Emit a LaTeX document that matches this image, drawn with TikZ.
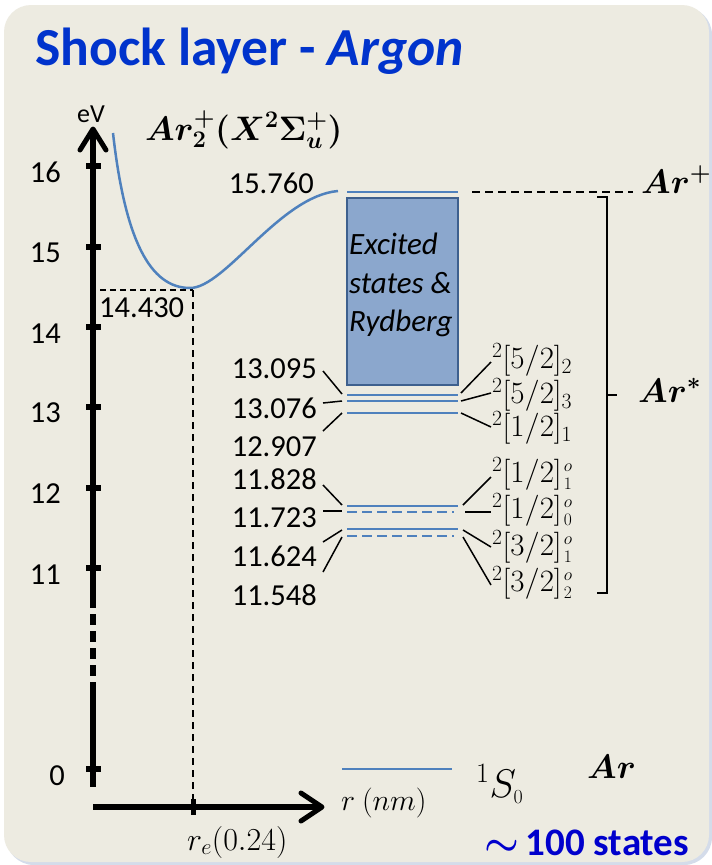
\RequirePackage{fix-cm}
\documentclass[tikz,border=0pt]{standalone}
\usepackage{amsmath}
\usepackage{bm}
\usepackage[no-math]{fontspec}
\setmainfont{Carlito}
\definecolor{bgbeige}{RGB}{237,235,225}
\definecolor{shadowblue}{RGB}{212,220,234}
\definecolor{lvlblue}{RGB}{79,129,189}
\definecolor{boxfill}{RGB}{139,167,205}
\definecolor{boxedge}{RGB}{62,96,142}
\definecolor{titleblue}{RGB}{0,51,204}
\definecolor{statesblue}{RGB}{0,0,204}
\newcommand{\stackso}[2]{\hbox{\kern2.2pt\fontsize{17.5}{18}\selectfont\rlap{\raisebox{11.4pt}{$#1$}}\raisebox{-6.4pt}{$#2$}}}
\tikzset{
  lvl/.style={draw=lvlblue, line width=2.8pt},
  lvldash/.style={lvl, dash pattern=on 10pt off 5pt},
  leader/.style={draw=black, line width=1.5pt},
  num/.style={font=\fontsize{30.5}{34}\selectfont, inner sep=0pt},
  term/.style={font=\fontsize{31}{34}\selectfont, inner sep=0pt, anchor=west},
  bigmath/.style={font=\fontsize{34}{38}\selectfont, inner sep=0pt, anchor=base west},
  axisline/.style={line width=5.5pt},
  guide/.style={draw=black, line width=1.4pt, dash pattern=on 6pt off 4pt},
  vguide/.style={draw=black, line width=1.2pt, dash pattern=on 7pt off 5pt},
}
\begin{document}
\begin{tikzpicture}[x=1pt,y=-1pt]
\useasboundingbox (0,0) rectangle (712,865);
\fill[white] (0,0) rectangle (712,865);
\fill[shadowblue, rounded corners=28pt] (6,7) rectangle (712,865);
\fill[bgbeige, rounded corners=27pt] (4,5) rectangle (709,862);

% title
\node[anchor=base west, inner sep=0pt, text=titleblue, font=\fontsize{53.5}{60}\selectfont\bfseries] (title) at (35,65) {Shock layer - \textit{Argon}};

% vertical axis
\draw[axisline] (93,132) -- (93,597);
\draw[axisline, dash pattern=on 11pt off 6pt] (93,597) -- (93,684);
\draw[axisline] (93,684) -- (93,787);
\draw[line width=5pt, line join=round, line cap=round] (80,150) -- (93,129) -- (106,150);
\foreach \yy in {166,247,327,407,488,568,769}
  \fill (86,{\yy-2.8}) rectangle (101,{\yy+2.8});
\node[inner sep=0pt, font=\fontsize{26}{30}\selectfont] (ev) at (91,114) {eV};
\node[num, anchor=east] (t16) at (61,172) {16};
\node[num, anchor=east] (t15) at (61,253) {15};
\node[num, anchor=east] (t14) at (61,334) {14};
\node[num, anchor=east] (t13) at (61,413) {13};
\node[num, anchor=east] (t12) at (61,494) {12};
\node[num, anchor=east] (t11) at (61,575) {11};
\node[num, anchor=east] (t0) at (65,776) {0};

% horizontal axis
\draw[axisline] (93,807) -- (320,807);
\draw[line width=5pt, line join=round, line cap=round] (301,793) -- (322,807) -- (301,821);
\fill (190.5,799) rectangle (195.5,815);
\node[anchor=base west, inner sep=0pt, font=\fontsize{30}{34}\selectfont] (rnm) at (341,810) {$r\ (nm)$};
\node[anchor=base west, inner sep=0pt, font=\fontsize{32}{36}\selectfont] (re) at (187,850) {$r_e(0.24)$};

% potential curve
\draw[lvlblue, line width=2.5pt] (113,133) .. controls (125,240) and (150,288) .. (190,288)
      .. controls (225,288) and (280,196) .. (338,191);
\node[bigmath, font=\fontsize{34}{40}\selectfont] (ar2) at (145,140) {$\bm{Ar_2^+(X^2\Sigma_u^+)}$};

% minimum guides
\coordinate (minL) at (100,290);
\coordinate (minR) at (193,290);
\coordinate (reB) at (193,807);
\draw[guide] (minL) -- (minR);
\draw[vguide] (minR) -- (reB);
\node[num, anchor=west] (v14430) at (99,308) {14.430};
\node[num, anchor=east] (v15760) at (314,183) {15.760};

% ionization level and box
\draw[lvl] (347,192) -- (458,192);
\draw[draw=boxedge, fill=boxfill, line width=2.2pt] (347,198) rectangle (458,385);
\node[anchor=north west, inner sep=0pt, align=left, font=\fontsize{31}{38.5}\selectfont\itshape] (exc) at (349,233) {Excited\\states \&\\Rydberg};

% Ar+ dashed
\coordinate (ipL) at (472,192);
\coordinate (ipR) at (633,192);
\draw[black, line width=1.5pt, dash pattern=on 8pt off 5pt] (ipL) -- (ipR);
\node[bigmath] (arp) at (641,193) {$\bm{Ar^+}$};

% group 1 levels
\draw[lvl] (347,395) -- (458,395);
\draw[lvl] (347,401) -- (458,401);
\draw[lvl] (347,413) -- (458,413);
% group 2 levels
\draw[lvl] (347,506) -- (458,506);
\draw[lvldash] (347,512) -- (454,512);
\draw[lvl] (347,529) -- (458,529);
\draw[lvldash] (347,536) -- (454,536);

% left labels
\node[num, anchor=east] (n1) at (317,369) {13.095};
\node[num, anchor=east] (n2) at (317,408) {13.076};
\node[num, anchor=east] (n3) at (317,447) {12.907};
\node[num, anchor=east] (n4) at (317,479) {11.828};
\node[num, anchor=east] (n5) at (317,518) {11.723};
\node[num, anchor=east] (n6) at (317,556) {11.624};
\node[num, anchor=east] (n7) at (317,595) {11.548};

\coordinate (la1) at (323,371); \coordinate (lb1) at (342,394);
\coordinate (la2) at (323,403); \coordinate (lb2) at (342,401);
\coordinate (la3) at (323,431); \coordinate (lb3) at (342,413);
\coordinate (la4) at (323,485); \coordinate (lb4) at (342,505);
\coordinate (la5) at (323,511); \coordinate (lb5) at (342,511);
\coordinate (la6) at (323,542); \coordinate (lb6) at (342,530);
\coordinate (la7) at (323,572); \coordinate (lb7) at (342,537);
\foreach \i in {1,...,7} \draw[leader] (la\i) -- (lb\i);

% right labels
\node[term] (s1) at (492,360) {$^2[5/2]_2$};
\node[term] (s2) at (492,395) {$^2[5/2]_3$};
\node[term] (s3) at (492,428) {$^2[1/2]_1$};
\node[term] (s4) at (492,474) {$^2[1/2]$\stackso{o}{1}};
\node[term] (s5) at (492,510) {$^2[1/2]$\stackso{o}{0}};
\node[term] (s6) at (492,547) {$^2[3/2]$\stackso{o}{1}};
\node[term] (s7) at (492,583) {$^2[3/2]$\stackso{o}{2}};

\coordinate (ra1) at (461,393); \coordinate (rb1) at (491,362);
\coordinate (ra2) at (461,401); \coordinate (rb2) at (491,393);
\coordinate (ra3) at (461,413); \coordinate (rb3) at (491,427);
\coordinate (ra4) at (463,505); \coordinate (rb4) at (491,477);
\coordinate (ra5) at (465,512); \coordinate (rb5) at (491,512);
\coordinate (ra6) at (463,530); \coordinate (rb6) at (491,547);
\coordinate (ra7) at (463,537); \coordinate (rb7) at (491,585);
\foreach \i in {1,...,7} \draw[leader] (ra\i) -- (rb\i);

% bracket Ar*
\coordinate (brT) at (597,197);
\coordinate (brB) at (597,593);
\coordinate (brM) at (607,395);
\draw[black, line width=1.8pt] (brT) -- (607,197) -- (607,593) -- (brB);
\draw[black, line width=1.8pt] (brM) -- (617,395);
\node[bigmath] (arstar) at (638,402) {$\bm{Ar^*}$};

% ground state
\draw[lvl] (342,769) -- (452,769);
\node[anchor=base west, inner sep=0pt, font=\fontsize{40}{44}\selectfont] (gs) at (476,797) {$^1S_{\scriptscriptstyle 0}$};
\node[bigmath] (ar) at (587,778) {$\bm{Ar}$};

% states count
\node[anchor=base west, inner sep=0pt, text=statesblue, font=\fontsize{39}{44}\selectfont\bfseries] (states) at (484,855) {$\bm{\sim}$\,100 states};
\end{tikzpicture}
\end{document}
